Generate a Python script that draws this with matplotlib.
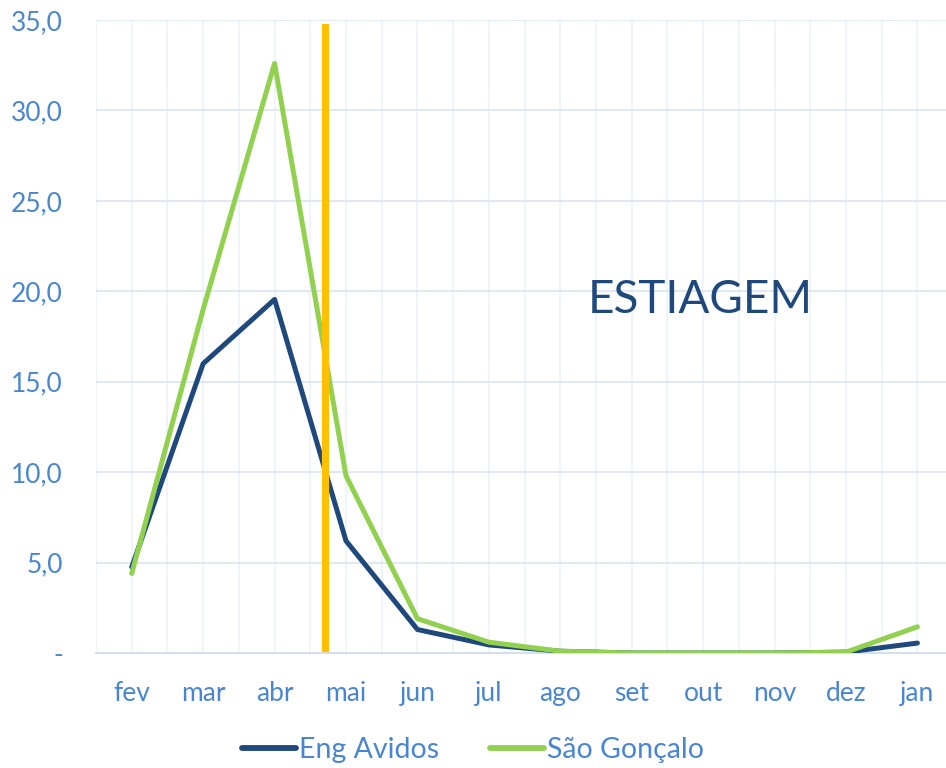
import matplotlib
matplotlib.use("Agg")
import matplotlib.pyplot as plt
import numpy as np

months = ["fev", "mar", "abr", "mai", "jun", "jul", "ago", "set", "out", "nov", "dez", "jan"]
eng_avidos = [4.75, 16.0, 19.55, 6.2, 1.3, 0.45, 0.1, 0.0, 0.0, 0.0, 0.05, 0.55]
sao_goncalo = [4.4, 19.0, 32.6, 9.8, 1.9, 0.6, 0.1, 0.0, 0.0, 0.0, 0.05, 1.45]
yticks = [0, 5, 10, 15, 20, 25, 30, 35]
ytick_labels = ["-", "5,0", "10,0", "15,0", "20,0", "25,0", "30,0", "35,0"]
marker_x = 2.71
marker_y = [0.3, 34.6]
annotation = "ESTIAGEM"

plt.rcParams['font.family'] = ['Lato', 'DejaVu Sans']
tick_color = "#4A86D0"

fig = plt.figure(figsize=(9.46, 7.68), dpi=100)
ax = fig.add_axes([0.1015, 0.1497, 0.8985, 0.8243])

x = np.arange(len(months))
for xv in np.arange(-0.5, 11.6, 0.5):
    ax.axvline(xv, color="#EEF3FA", lw=1.3, zorder=0)
for yv in yticks[1:]:
    ax.axhline(yv, color="#DCE6F2", lw=1.3, zorder=0)

ax.plot(x, eng_avidos, color="#1F497D", lw=3.6, solid_capstyle="round", label="Eng Avidos", zorder=3)
ax.plot(x, sao_goncalo, color="#92D050", lw=3.6, solid_capstyle="round", label="São Gonçalo", zorder=3)
ax.plot([marker_x, marker_x], marker_y, color="#FFC000", lw=5.2, zorder=4)

ax.text(7.96, 19.5, annotation, color="#1F497D", fontsize=33, ha="center", va="center")

ax.set_xlim(-0.5, 11.4)
ax.set_ylim(0, 35)
ax.set_xticks(x)
ax.set_xticklabels(months)
ax.set_yticks(yticks)
ax.set_yticklabels(ytick_labels)
ax.tick_params(axis="both", length=0, labelsize=19, colors=tick_color)
ax.tick_params(axis="x", pad=20)
ax.tick_params(axis="y", pad=24)
for s in ["top", "right", "left"]:
    ax.spines[s].set_visible(False)
ax.spines["bottom"].set_color("#D0DCEE")
ax.spines["bottom"].set_linewidth(1.3)

leg = fig.legend(loc="lower center", bbox_to_anchor=(0.5, -0.027), ncol=2, frameon=False,
                 fontsize=20.5, handlelength=1.9, handletextpad=0.1, columnspacing=1.8)
for h in leg.get_lines():
    h.set_linewidth(4.2)
for t in leg.get_texts():
    t.set_color(tick_color)

fig.savefig("out.png", dpi=100)
